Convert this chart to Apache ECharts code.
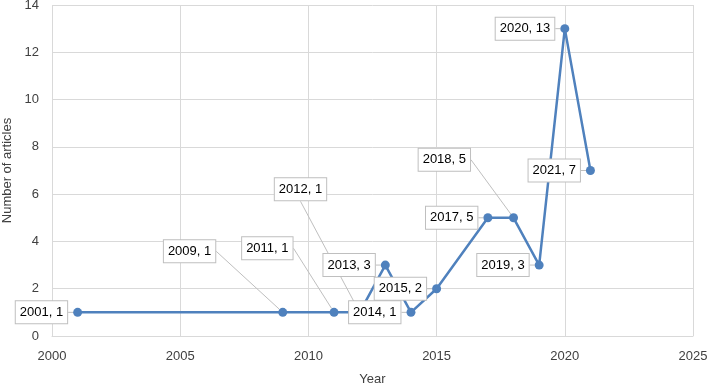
<!DOCTYPE html>
<html>
<head>
<meta charset="utf-8">
<script src="https://cdn.jsdelivr.net/npm/echarts@6/dist/echarts.min.js"></script>
<style>
  html, body { margin: 0; padding: 0; background: #fff; }
  #chart { width: 708px; height: 388px; }
</style>
</head>
<body>
<div id="chart"></div>
<script>
// data
const years = [2001, 2009, 2011, 2012, 2013, 2014, 2015, 2017, 2018, 2019, 2020, 2021]
const articles = [1, 1, 1, 1, 3, 1, 2, 5, 5, 3, 13, 7]

// callout shifts (px) for labels that sit away from their point
const labelShift = {
  1: [-57, -61],
  2: [-31, -64],
  3: [-23, -123],
  8: [-33, -58]
}

const font = 'Liberation Sans, Arial, sans-serif'
const myChart = echarts.init(document.getElementById('chart'))

const option = {
  backgroundColor: '#fff',
  animation: false,
  grid: { left: 52, right: 15, top: 5, bottom: 52, containLabel: false, outerBoundsMode: 'none' },
  xAxis: {
    type: 'value',
    min: 2000,
    max: 2025,
    interval: 5,
    name: 'Year',
    nameLocation: 'middle',
    nameGap: 37,
    nameTextStyle: { color: '#404040', fontSize: 13, fontFamily: font },
    axisLine: { show: true, lineStyle: { color: '#d9d9d9' } },
    axisTick: { show: false },
    axisLabel: { color: '#404040', fontSize: 13, fontFamily: font, margin: 14, formatter: v => String(v) },
    splitLine: { show: true, lineStyle: { color: '#d9d9d9' } }
  },
  yAxis: {
    type: 'value',
    min: 0,
    max: 14,
    interval: 2,
    name: 'Number of articles',
    nameLocation: 'middle',
    nameGap: 33,
    nameTextStyle: { color: '#404040', fontSize: 13, fontFamily: font },
    axisLine: { show: false },
    axisTick: { show: false },
    axisLabel: { color: '#404040', fontSize: 13, fontFamily: font, margin: 13 },
    splitLine: { show: true, lineStyle: { color: '#d9d9d9' } }
  },
  series: [{
    type: 'line',
    data: years.map((y, i) => [y, articles[i]]),
    symbol: 'circle',
    symbolSize: 9,
    itemStyle: { color: '#4f81bd' },
    lineStyle: { color: '#4f81bd', width: 2.5 },
    label: {
      show: true,
      position: 'left',
      distance: 6,
      formatter: p => p.value[0] + ', ' + p.value[1],
      color: '#000',
      fontSize: 13,
      fontFamily: font,
      backgroundColor: '#fff',
      borderColor: '#bfbfbf',
      borderWidth: 1,
      padding: [5, 4, 4, 4]
    },
    labelLine: {
      show: true,
      lineStyle: { color: '#bfbfbf', width: 1 }
    },
    labelLayout: (params) => {
      const s = labelShift[params.dataIndex]
      return s ? { dx: s[0], dy: s[1] } : {}
    }
  }]
}

myChart.setOption(option, true)
</script>
</body>
</html>
